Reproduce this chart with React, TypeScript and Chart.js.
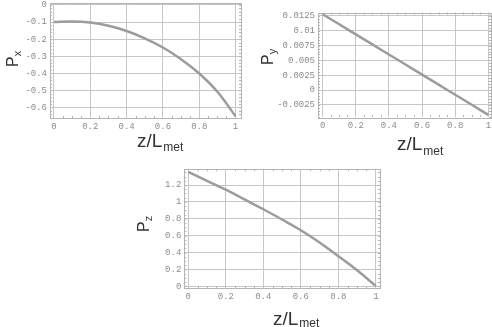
import React, { useEffect, useRef } from "react";
import { Chart, registerables } from "chart.js";

Chart.register(...registerables);

// ---- data ----
const zValues = [0, 0.1, 0.2, 0.3, 0.4, 0.5, 0.6, 0.7, 0.8, 0.9, 1.0];
const pxValues = [-0.1, -0.096, -0.103, -0.122, -0.152, -0.195, -0.249, -0.318, -0.401, -0.508, -0.652];
const pyValues = [0.0128, 0.0111, 0.0094, 0.0077, 0.006, 0.0043, 0.0026, 0.0009, -0.0008, -0.0025, -0.0042];
const pzValues = [1.355, 1.25, 1.145, 1.03, 0.913, 0.792, 0.665, 0.52, 0.357, 0.19, 0.005];

const xTicks = [0, 0.2, 0.4, 0.6, 0.8, 1];
const pxTicks = [0, -0.1, -0.2, -0.3, -0.4, -0.5, -0.6];
const pyTicks = [0.0125, 0.01, 0.0075, 0.005, 0.0025, 0, -0.0025];
const pzTicks = [0, 0.2, 0.4, 0.6, 0.8, 1, 1.2];

const xTitleMain = "z/L";
const xTitleSub = "met";
const yTitleMain = "P";
const yTitleSubs = ["x", "y", "z"];

const W = 492;
const H = 327;

const fmt = (v: number) => {
  const n = Number(v.toFixed(4));
  return (Object.is(n, -0) ? 0 : n).toString();
};

type Spec = {
  values: number[];
  yTicks: number[];
  yMinor: number;
  xMin: number;
  xMax: number;
  yMin: number;
  yMax: number;
  area: { left: number; top: number; right: number; bottom: number };
  yAxisWidth: number;
  xAxisHeight: number;
  yTitle: { x: number; y: number; sub: string };
  xTitle: { x: number; y: number; subDy: number };
};

const specs: Spec[] = [
  {
    values: pxValues,
    yTicks: pxTicks,
    yMinor: 0.02,
    xMin: -0.022,
    xMax: 1.03,
    yMin: -0.662,
    yMax: 0.0117,
    area: { left: 50, top: 3, right: 241, bottom: 118 },
    yAxisWidth: 50,
    xAxisHeight: 40,
    yTitle: { x: 18, y: 67, sub: yTitleSubs[0] },
    xTitle: { x: 137, y: 147, subDy: 4 },
  },
  {
    values: pyValues,
    yTicks: pyTicks,
    yMinor: 0.0005,
    xMin: -0.028,
    xMax: 1.016,
    yMin: -0.00456,
    yMax: 0.01309,
    area: { left: 318, top: 12.5, right: 491, bottom: 117 },
    yAxisWidth: 70,
    xAxisHeight: 40,
    yTitle: { x: 273, y: 65, sub: yTitleSubs[1] },
    xTitle: { x: 397, y: 150, subDy: 5 },
  },
  {
    values: pzValues,
    yTicks: pzTicks,
    yMinor: 0.05,
    xMin: -0.021,
    xMax: 1.022,
    yMin: -0.019,
    yMax: 1.386,
    area: { left: 184.3, top: 169.3, right: 380, bottom: 288 },
    yAxisWidth: 50,
    xAxisHeight: 36,
    yTitle: { x: 149, y: 232, sub: yTitleSubs[2] },
    xTitle: { x: 273, y: 325, subDy: 2 },
  },
];

const TICK_FONT = { family: "'Liberation Mono', 'DejaVu Sans Mono', monospace", size: 9 };
const TICK_COLOR = "#8c8c8c";
const GRID_COLOR = "#c6c6c6";
const FRAME_COLOR = "#b4b4b4";
const LINE_COLOR = "#9c9c9c";
const TITLE_COLOR = "#333333";
const TITLE_FAMILY = "'Liberation Sans', Arial, sans-serif";

function makeConfig(spec: Spec): any {
  const framePlugin = {
    id: "frameAndTitles",
    beforeDatasetsDraw(chart: any) {
      const { ctx, chartArea: a, scales } = chart;
      ctx.save();
      ctx.strokeStyle = FRAME_COLOR;
      ctx.lineWidth = 1;
      ctx.strokeRect(Math.round(a.left) + 0.5, Math.round(a.top) + 0.5, Math.round(a.right - a.left), Math.round(a.bottom - a.top));
      // minor ticks (skip majors: the grid covers them)
      ctx.beginPath();
      const xs = scales.x;
      const ys = scales.y;
      for (let i = 0; i <= 20; i++) {
        if (i % 4 === 0) continue;
        const px = Math.round(xs.getPixelForValue(i * 0.05)) + 0.5;
        ctx.moveTo(px, a.bottom);
        ctx.lineTo(px, a.bottom - 2);
        ctx.moveTo(px, a.top);
        ctx.lineTo(px, a.top + 2);
      }
      const start = Math.ceil(spec.yMin / spec.yMinor);
      const end = Math.floor(spec.yMax / spec.yMinor);
      for (let i = start; i <= end; i++) {
        const v = i * spec.yMinor;
        const py = Math.round(ys.getPixelForValue(v)) + 0.5;
        ctx.moveTo(a.left, py);
        ctx.lineTo(a.left + 2, py);
        ctx.moveTo(a.right, py);
        ctx.lineTo(a.right - 2, py);
      }
      ctx.stroke();
      ctx.restore();
    },
    afterDraw(chart: any) {
      const { ctx } = chart;
      ctx.save();
      ctx.fillStyle = TITLE_COLOR;
      ctx.textBaseline = "alphabetic";
      ctx.textAlign = "left";
      // x title
      ctx.font = `19px ${TITLE_FAMILY}`;
      ctx.fillText(xTitleMain, spec.xTitle.x, spec.xTitle.y);
      const w = ctx.measureText(xTitleMain).width;
      ctx.font = `12px ${TITLE_FAMILY}`;
      ctx.fillText(xTitleSub, spec.xTitle.x + w + 1, spec.xTitle.y + spec.xTitle.subDy);
      // y title (rotated)
      ctx.translate(spec.yTitle.x, spec.yTitle.y);
      ctx.rotate(-Math.PI / 2);
      ctx.font = `16px ${TITLE_FAMILY}`;
      ctx.fillText(yTitleMain, 0, 0);
      const pw = ctx.measureText(yTitleMain).width;
      ctx.font = `11px ${TITLE_FAMILY}`;
      ctx.fillText(spec.yTitle.sub, pw, 3);
      ctx.restore();
    },
  };

  return {
    type: "line",
    data: {
      datasets: [
        {
          data: zValues.map((z, i) => ({ x: z, y: spec.values[i] })),
          borderColor: LINE_COLOR,
          borderWidth: 2.5,
          pointRadius: 0,
          tension: 0.4,
          fill: false,
        },
      ],
    },
    options: {
      animation: false,
      responsive: false,
      events: [],
      layout: {
        padding: {
          left: spec.area.left - spec.yAxisWidth,
          top: spec.area.top,
          right: W - spec.area.right,
          bottom: H - spec.area.bottom - spec.xAxisHeight,
        },
      },
      plugins: { legend: { display: false }, tooltip: { enabled: false }, title: { display: false } },
      scales: {
        x: {
          type: "linear",
          min: spec.xMin,
          max: spec.xMax,
          afterBuildTicks: (s: any) => {
            s.ticks = xTicks.map((v) => ({ value: v }));
          },
          afterFit: (s: any) => {
            s.height = spec.xAxisHeight;
            s.paddingLeft = 0;
            s.paddingRight = 0;
          },
          grid: { color: GRID_COLOR, lineWidth: 1, drawTicks: false },
          border: { display: false },
          ticks: {
            autoSkip: false,
            maxRotation: 0,
            padding: 3,
            color: TICK_COLOR,
            font: TICK_FONT,
            callback: (v: number) => fmt(v),
          },
        },
        y: {
          type: "linear",
          min: spec.yMin,
          max: spec.yMax,
          afterBuildTicks: (s: any) => {
            s.ticks = spec.yTicks.map((v) => ({ value: v }));
          },
          afterFit: (s: any) => {
            s.width = spec.yAxisWidth;
            s.paddingTop = 0;
            s.paddingBottom = 0;
          },
          grid: { color: GRID_COLOR, lineWidth: 1, drawTicks: false },
          border: { display: false },
          ticks: {
            autoSkip: false,
            padding: 3,
            color: TICK_COLOR,
            font: TICK_FONT,
            callback: (v: number) => fmt(v),
          },
        },
      },
    },
    plugins: [framePlugin],
  };
}

function Panel({ spec }: { spec: Spec }) {
  const ref = useRef<HTMLCanvasElement | null>(null);
  useEffect(() => {
    if (!ref.current) return;
    const chart = new Chart(ref.current, makeConfig(spec));
    return () => chart.destroy();
  }, [spec]);
  return (
    <canvas
      ref={ref}
      width={W}
      height={H}
      style={{ position: "absolute", left: 0, top: 0, width: W, height: H }}
    />
  );
}

export default function App() {
  return (
    <div style={{ position: "fixed", left: 0, top: 0, width: W, height: H, background: "#ffffff", overflow: "hidden" }}>
      {specs.map((s, i) => (
        <Panel key={i} spec={s} />
      ))}
    </div>
  );
}
